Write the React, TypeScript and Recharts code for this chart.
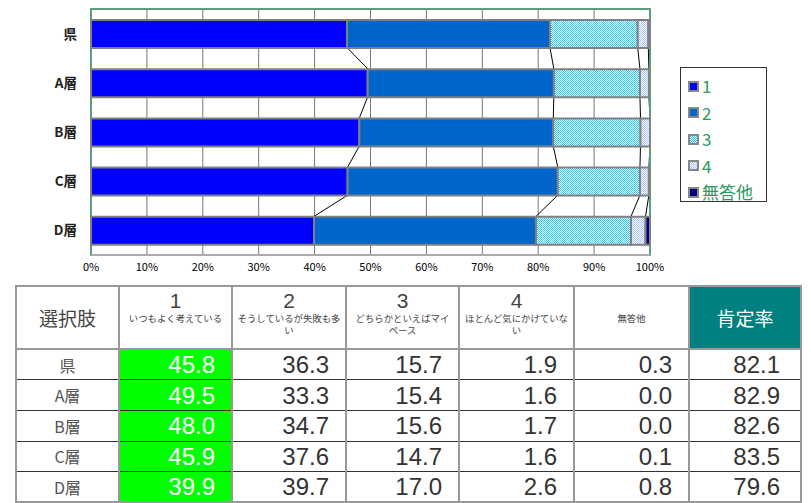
import React from "react"
import * as RechartsAll from "recharts"
import {
  Bar,
  BarChart,
  CartesianGrid,
  Customized,
  Legend,
  ReferenceArea,
  XAxis,
  YAxis,
} from "recharts"

// categories (rows)
const categories = ["県", "A層", "B層", "C層", "D層"]

// series values (%)
const s1 = [45.8, 49.5, 48.0, 45.9, 39.9]
const s2 = [36.3, 33.3, 34.7, 37.6, 39.7]
const s3 = [15.7, 15.4, 15.6, 14.7, 17.0]
const s4 = [1.9, 1.6, 1.7, 1.6, 2.6]
const s5 = [0.3, 0.0, 0.0, 0.1, 0.8]
const positiveRate = [82.1, 82.9, 82.6, 83.5, 79.6]

const seriesNames = ["1", "2", "3", "4", "無答他"]
const seriesDesc = [
  "いつもよく考えている",
  "そうしているが失敗も多\nい",
  "どちらかといえばマイ\nペース",
  "ほとんど気にかけていな\nい",
]
const xTicks = [0, 10, 20, 30, 40, 50, 60, 70, 80, 90, 100]

const allSeries = [s1, s2, s3, s4, s5]
const fills = ["#0000FF", "#0066CC", "url(#pat3)", "url(#pat4)", "#000080"]

const rows = categories.map((name, i) => ({
  name,
  s1: s1[i],
  s2: s2[i],
  s3: s3[i],
  s4: s4[i],
  s5: s5[i],
}))

const FONT = '"Noto Sans CJK JP", "Noto Sans", sans-serif'
const NUM_FONT = '"Liberation Sans", Arial, sans-serif'
const BAR = 28

const usePlotAreaHook = (RechartsAll as any).usePlotArea

// thin series lines joining the segment borders of neighbouring bars
const Connectors = () => {
  const area = usePlotAreaHook ? usePlotAreaHook() : undefined
  if (!area) return null
  const band = area.height / categories.length
  const sx = (v: number) => area.x + (v / 100) * area.width
  const lines: React.ReactNode[] = []
  for (let i = 0; i < categories.length - 1; i++) {
    let c1 = 0
    let c2 = 0
    for (let k = 0; k < 4; k++) {
      c1 += allSeries[k][i]
      c2 += allSeries[k][i + 1]
      const y1 = area.y + band * i + (band + BAR) / 2
      const y2 = area.y + band * (i + 1) + (band - BAR) / 2
      lines.push(
        <line key={`${i}-${k}`} x1={sx(c1)} y1={y1} x2={sx(c2)} y2={y2} stroke="#000" strokeWidth={1} />
      )
    }
  }
  return <g>{lines}</g>
}

const CategoryTick = ({ x, y, payload }: any) => (
  <text x={x - 6} y={y} dy={5} textAnchor="end" fontSize={13.5} fontWeight={700} fill="#222" fontFamily={FONT}>
    {payload.value}
  </text>
)

const LegendBox = ({ payload }: any) => {
  const items = (payload && payload.length ? payload : seriesNames.map((n, i) => ({ value: n, color: fills[i] })))
  return (
    <div style={{ border: "1px solid #333", background: "#fff", width: 87, height: 135, boxSizing: "border-box", paddingTop: 5, paddingLeft: 7 }}>
      {items.map((it: any, i: number) => (
        <div key={i} style={{ display: "flex", alignItems: "center", height: 26.5 }}>
          <svg width={11} height={11} style={{ marginRight: 3 }}>
            <rect x={0} y={0} width={11} height={11} fill="#888" />
            <rect x={2} y={2} width={7} height={7} fill={fills[i] || it.color} />
          </svg>
          <span style={{ color: "#2E9A5C", fontSize: 17, fontFamily: FONT, lineHeight: "20px" }}>{it.value}</span>
        </div>
      ))}
    </div>
  )
}

const cellBase: React.CSSProperties = {
  borderLeft: "2px solid #999",
  borderRight: "2px solid #999",
  borderBottom: "1px solid #333",
  padding: 0,
  fontFamily: FONT,
}

const colWidths = [103, 113, 114, 113, 115, 115, 112]

export default function App() {
  return (
    <div style={{ position: "absolute", left: 0, top: 0, width: 811, height: 503, background: "#fff", overflow: "hidden" }}>
      <svg width={0} height={0} style={{ position: "absolute" }}>
        <defs>
          <pattern id="pat3" width={2} height={2} patternUnits="userSpaceOnUse">
            <rect width={2} height={2} fill="#fff" />
            <rect width={1} height={1} fill="#22CCFF" />
            <rect x={1} y={1} width={1} height={1} fill="#22CCFF" />
          </pattern>
          <pattern id="pat4" width={2} height={2} patternUnits="userSpaceOnUse">
            <rect width={2} height={2} fill="#fff" />
            <rect width={1} height={1} fill="#A8C4FF" />
            <rect x={1} y={1} width={1} height={1} fill="#A8C4FF" />
          </pattern>
        </defs>
      </svg>

      <BarChart
        width={811}
        height={285}
        data={rows}
        layout="vertical"
        margin={{ top: 9, right: 161, bottom: 0, left: 0 }}
        barSize={BAR}
      >
        <CartesianGrid horizontal={false} stroke="#777" />
        <ReferenceArea x1={0} x2={100} fill="none" stroke="#5E9E78" strokeWidth={2} />
        <XAxis
          type="number"
          domain={[0, 100]}
          ticks={xTicks}
          tickFormatter={(v) => `${v}%`}
          height={30}
          axisLine={{ stroke: "#aaa", strokeWidth: 2 }}
          tickLine={false}
          tick={{ fontSize: 11, fill: "#000", fontFamily: FONT }}
          interval={0}
        />
        <YAxis
          type="category"
          dataKey="name"
          width={91}
          axisLine={false}
          tickLine={false}
          tick={<CategoryTick />}
        />
        {["s1", "s2", "s3", "s4", "s5"].map((key, i) => (
          <Bar
            key={key}
            dataKey={key}
            name={seriesNames[i]}
            stackId="a"
            fill={fills[i]}
            stroke="#808080"
            strokeWidth={2}
            isAnimationActive={false}
          />
        ))}
        <Customized component={<Connectors />} />
        <Legend
          layout="vertical"
          align="center"
          verticalAlign="middle"
          wrapperStyle={{ left: 680, top: 67, width: 87, height: 135 }}
          content={<LegendBox />}
        />
      </BarChart>

      <table
        style={{
          position: "absolute",
          left: 15,
          top: 285,
          borderCollapse: "collapse",
          tableLayout: "fixed",
          width: 785,
          border: "2px solid #999",
          color: "#444",
        }}
      >
        <colgroup>
          {colWidths.map((w, i) => (
            <col key={i} style={{ width: w }} />
          ))}
        </colgroup>
        <tbody>
          <tr style={{ height: 63 }}>
            <td style={{ ...cellBase, borderBottom: "2px solid #999", textAlign: "center", fontSize: 19 }}>選択肢</td>
            {seriesDesc.map((d, i) => (
              <td key={i} style={{ ...cellBase, borderBottom: "2px solid #999", textAlign: "center", verticalAlign: "top", paddingTop: 2 }}>
                <div style={{ fontSize: 21, lineHeight: "23px", fontFamily: NUM_FONT }}>{seriesNames[i]}</div>
                <div style={{ fontSize: 9.4, lineHeight: "12px", whiteSpace: "pre-line" }}>{d}</div>
              </td>
            ))}
            <td style={{ ...cellBase, borderBottom: "2px solid #999", textAlign: "center", fontSize: 9.4 }}>{seriesNames[4]}</td>
            <td style={{ ...cellBase, borderBottom: "2px solid #999", textAlign: "center", fontSize: 19, background: "#008080", color: "#fff" }}>肯定率</td>
          </tr>
          {categories.map((c, r) => (
            <tr key={c} style={{ height: 30.7 }}>
              <td style={{ ...cellBase, textAlign: "center", fontSize: 16, color: "#555" }}>{c}</td>
              {[...allSeries, positiveRate].map((arr, k) => (
                <td
                  key={k}
                  style={{
                    ...cellBase,
                    textAlign: "right",
                    paddingRight: k === 5 ? 20 : 16,
                    fontSize: 24,
                    fontFamily: NUM_FONT,
                    lineHeight: "27px",
                    background: k === 0 ? "#00FF00" : "#fff",
                    color: k === 0 ? "#fff" : "#333",
                  }}
                >
                  {arr[r].toFixed(1)}
                </td>
              ))}
            </tr>
          ))}
        </tbody>
      </table>
    </div>
  )
}
